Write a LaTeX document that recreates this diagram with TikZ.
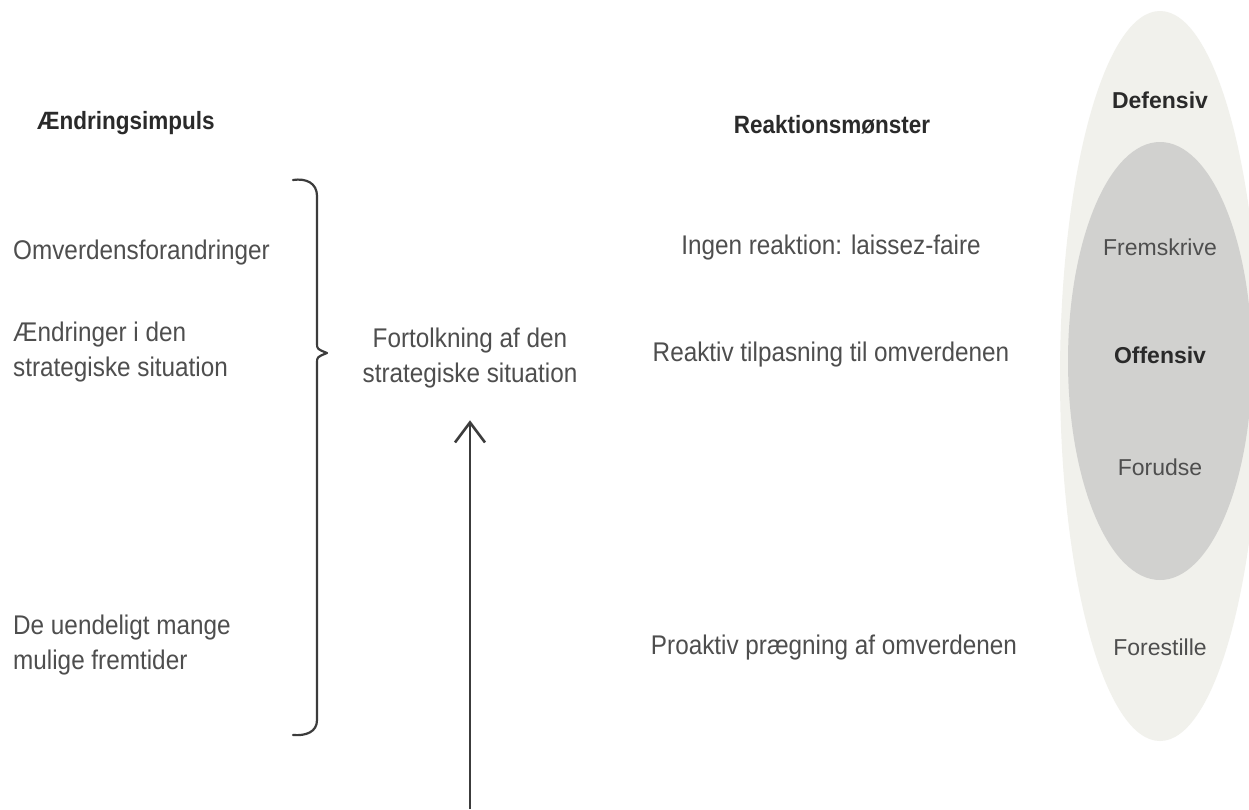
\documentclass[tikz,border=0pt]{standalone}
\usepackage{fontspec}
\setmainfont{Liberation Sans}[FakeStretch=0.9]
\newfontfamily\ellfont{Liberation Sans}
\usetikzlibrary{arrows.meta}
\definecolor{txt}{HTML}{4E4E4E}
\definecolor{headtxt}{HTML}{2A2A2A}
\definecolor{outerfill}{HTML}{F1F1EC}
\definecolor{innerfill}{HTML}{D1D1CF}
\definecolor{linecol}{HTML}{3C3C3C}
\begin{document}
\begin{tikzpicture}[x=1pt,y=-1pt,
  body/.style={font=\fontsize{27}{35}\selectfont, text=txt, inner sep=0pt},
  leftcol/.style={body, anchor=west, align=left},
  midcol/.style={body, align=center},
  head/.style={font=\fontsize{25}{30}\selectfont\bfseries, text=headtxt, inner sep=0pt},
  elltext/.style={font=\ellfont\fontsize{23}{28}\selectfont, text=txt, inner sep=0pt},
  ellhead/.style={elltext, font=\ellfont\fontsize{23}{28}\selectfont\bfseries, text=headtxt},
  bracestyle/.style={draw=linecol, line width=2.2pt, line cap=round, line join=round},
  arrowstyle/.style={draw=linecol, line width=2.4pt, -{Straight Barb[length=20pt,width=30pt,line width=2.6pt]}}
]
\useasboundingbox (0,0) rectangle (1249,809);
\fill[white] (0,0) rectangle (1249,809);
\begin{scope}
\clip (0,0) rectangle (1249,809);
\fill[outerfill] (1160,376) ellipse [x radius=100, y radius=365];
\fill[innerfill] (1160,361) ellipse [x radius=92, y radius=219];
\end{scope}

% left column
\node[head, anchor=west] (hImp) at (37,123) {Ændringsimpuls};
\node[leftcol] (omv) at (13,253) {Omverdensforandringer};
\node[leftcol] (aendr) at (13,352) {Ændringer i den\\strategiske situation};
\node[leftcol] (uend) at (13,645) {De uendeligt mange\\mulige fremtider};

% brace
\draw[bracestyle] (293,180) .. controls (306,178) and (317,183) .. (317,196)
  -- (317,343) .. controls (317,349) .. (327,353) .. controls (317,357) .. (317,363)
  -- (317,720) .. controls (317,732) and (306,736) .. (293,735);

% middle
\node[midcol] (fort) at (470,358) {Fortolkning af den\\strategiske situation};
\coordinate (afoot) at (470,809);
\draw[arrowstyle, shorten >=32pt] (afoot) -- (fort.south);

% reaction column
\node[head] (hReak) at (832,125) {Reaktionsmønster};
\node[body] (ingen) at (831,248) {Ingen reaktion: laissez-faire};
\node[body] (reak) at (831,355) {Reaktiv tilpasning til omverdenen};
\node[body] (proak) at (834,648) {Proaktiv prægning af omverdenen};

% ellipse labels
\node[ellhead] (def) at (1160,100) {Defensiv};
\node[elltext] (frem) at (1160,247) {Fremskrive};
\node[ellhead] (off) at (1160,355) {Offensiv};
\node[elltext] (forud) at (1160,467) {Forudse};
\node[elltext] (forest) at (1160,647) {Forestille};
\end{tikzpicture}
\end{document}
